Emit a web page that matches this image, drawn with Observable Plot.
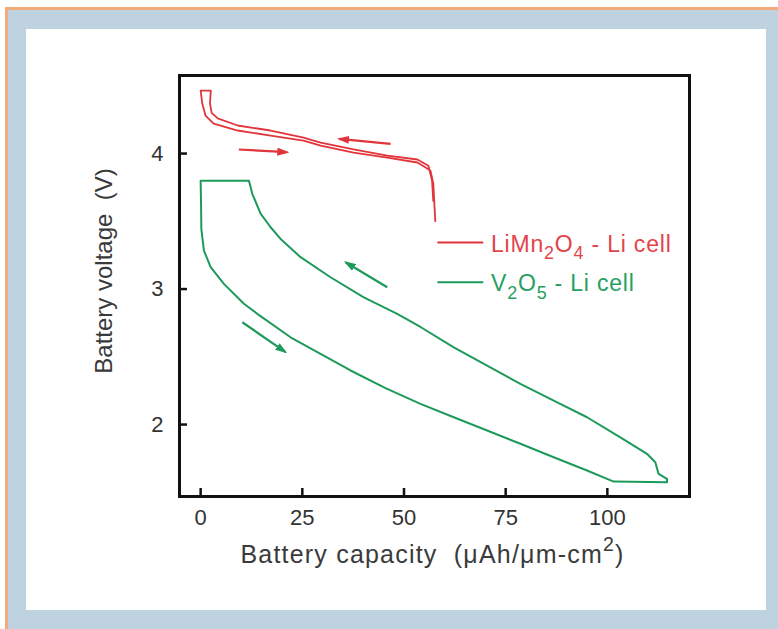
<!DOCTYPE html>
<html>
<head>
<meta charset="utf-8">
<script src="https://cdn.jsdelivr.net/npm/d3@7"></script>
<script src="https://cdn.jsdelivr.net/npm/@observablehq/plot@0.6"></script>
<style>
html, body { margin: 0; padding: 0; background: #ffffff; width: 778px; height: 629px; overflow: hidden; }
#orange { position: absolute; left: 5px; top: 7px; width: 773px; height: 622px; background: #f5aa7b; }
#blue { position: absolute; left: 8px; top: 10px; width: 770px; height: 619px; background: #bfd2e0; }
#panel { position: absolute; left: 26px; top: 29px; width: 740px; height: 581px; background: #ffffff; }
#panel svg { display: block; }
</style>
</head>
<body>
<div id="orange"></div>
<div id="blue"></div>
<div id="panel"></div>
<script>
// ---------- data ----------
const capacityTicks = [0, 25, 50, 75, 100];
const voltageTicks = [2, 3, 4];

// LiMn2O4 - Li cell: closed thin loop (discharge branch then charge branch)
const limnCapacity = [57.7, 57.2, 56.5, 53.3, 45.9, 37.6, 29.5, 25.3, 17.2, 9.1, 3.2, 1.2, 0.4, 0.0,
                      2.5, 2.3, 2.7, 4.2, 9.1, 17.2, 25.3, 29.5, 37.6, 45.9, 53.3, 56.0, 56.9, 57.2];
const limnVoltage  = [3.50, 3.78, 3.875, 3.934, 3.970, 4.007, 4.059, 4.096, 4.133, 4.170, 4.221, 4.280, 4.369, 4.465,
                      4.465, 4.369, 4.300, 4.260, 4.207, 4.170, 4.118, 4.081, 4.030, 3.985, 3.956, 3.910, 3.800, 3.650];

// V2O5 - Li cell: closed loop
const v2o5Capacity = [11.87, 0.0, 0.1, 0.17, 0.81, 2.46, 5.72, 10.64, 13.93, 22.11, 29.48, 36.86, 45.45, 54.05, 62.24, 70.44, 78.62, 86.81, 95.01, 101.55,
                      114.67, 114.67, 112.6, 111.79, 109.75, 103.19, 95.01, 86.81, 78.62, 70.44, 62.24, 54.05, 48.33, 40.12, 31.94, 24.57, 19.66, 17.2, 14.74, 12.70, 11.87];
const v2o5Voltage  = [3.80, 3.80, 3.62, 3.444, 3.284, 3.161, 3.038, 2.891, 2.817, 2.644, 2.522, 2.399, 2.269, 2.153, 2.054, 1.956, 1.858, 1.759, 1.661, 1.579,
                      1.574, 1.599, 1.636, 1.722, 1.784, 1.906, 2.054, 2.177, 2.300, 2.435, 2.570, 2.720, 2.817, 2.939, 3.087, 3.235, 3.370, 3.456, 3.556, 3.703, 3.80];

// direction arrows
const arrowSeries        = ["LiMn2O4", "LiMn2O4", "V2O5", "V2O5"];
const arrowFromCapacity  = [46.7, 9.4, 45.87, 10.25];
const arrowFromVoltage   = [4.072, 4.030, 3.013, 2.755];
const arrowToCapacity    = [34.0, 21.3, 35.63, 20.88];
const arrowToVoltage     = [4.108, 4.010, 3.198, 2.534];

const seriesKeys   = ["LiMn2O4", "V2O5"];
const seriesLabels = ["LiMn_2O_4 - Li cell", "V_2O_5 - Li cell"];

const xLabel = "Battery capacity\u00a0 (\u03bcAh/\u03bcm-cm^2)";
const yLabel = "Battery voltage\u00a0 (V)";

// ---------- styles ----------
const lineColor = {LiMn2O4: "#e1353b", V2O5: "#1d9a5b"};
const textColor = {LiMn2O4: "#e3444a", V2O5: "#26a062"};

// ---------- tables ----------
const limnData = limnCapacity.map((c, i) => ({capacity: c, voltage: limnVoltage[i]}));
const v2o5Data = v2o5Capacity.map((c, i) => ({capacity: c, voltage: v2o5Voltage[i]}));
const arrowData = arrowSeries.map((s, i) => ({
  series: s, x1: arrowFromCapacity[i], y1: arrowFromVoltage[i], x2: arrowToCapacity[i], y2: arrowToVoltage[i]
}));
const legendData = seriesKeys.map((k, i) => ({series: k, label: seriesLabels[i]}));

// legend placement (in data units of the chart)
const legendLineX1 = 58.2, legendLineX2 = 69.5, legendTextX = 71.4;
const legendLineY = [3.343, 3.050];
const legendTextY = [3.277, 2.982];

const font = "'Liberation Sans', Arial, Helvetica, sans-serif";

const chart = Plot.plot({
  width: 740,
  height: 581,
  marginLeft: 153,
  marginRight: 77,
  marginTop: 46,
  marginBottom: 114,
  style: {fontFamily: font, background: "transparent", overflow: "visible"},
  x: {domain: [-5.2, 120.2]},
  y: {domain: [1.469, 4.576]},
  marks: [
    Plot.line(limnData, {x: "capacity", y: "voltage", stroke: lineColor.LiMn2O4, strokeWidth: 1.8, strokeLinejoin: "round"}),
    Plot.line(v2o5Data, {x: "capacity", y: "voltage", stroke: lineColor.V2O5, strokeWidth: 2, strokeLinejoin: "round"}),
    Plot.link(arrowData, {x1: "x1", y1: "y1", x2: "x2", y2: "y2", stroke: d => lineColor[d.series], strokeWidth: 2.2, ariaLabel: () => "direction-arrows"}),
    // legend
    Plot.link(legendData, {x1: legendLineX1, x2: legendLineX2, y1: (d, i) => legendLineY[i], y2: (d, i) => legendLineY[i], stroke: d => lineColor[d.series], strokeWidth: 2}),
    Plot.text(legendData, {x: legendTextX, y: (d, i) => legendTextY[i], text: "label", fill: d => textColor[d.series], fontSize: 23, textAnchor: "start", lineAnchor: "bottom", ariaLabel: () => "legend-text"}),
    // axes
    Plot.axisX(capacityTicks, {tickSize: -8, strokeWidth: 2.5, stroke: "#111", fill: "none", label: null}),
    Plot.axisX(capacityTicks, {tickSize: 0, tickPadding: 13, fontSize: 22, fill: "#333", label: null, tickFormat: d3.format("d")}),
    Plot.axisY(voltageTicks, {tickSize: -8, strokeWidth: 2.5, stroke: "#111", fill: "none", label: null}),
    Plot.axisY(voltageTicks, {tickSize: 0, tickPadding: 16, fontSize: 22, fill: "#333", label: null, tickFormat: d3.format("d")}),
    Plot.frame({stroke: "#111", strokeWidth: 3}),
    // axis titles
    Plot.text([xLabel], {frameAnchor: "bottom", dy: 66, dx: -2, textAnchor: "middle", lineAnchor: "bottom", fontSize: 25, fill: "#3a3a3a", ariaLabel: () => "x-title"}),
    Plot.text([yLabel], {frameAnchor: "left", dx: -75, dy: -15, textAnchor: "middle", lineAnchor: "middle", rotate: -90, fontSize: 24, fill: "#3a3a3a", ariaLabel: () => "y-title"})
  ]
});

document.getElementById("panel").appendChild(chart);

// ---------- rich text (sub/superscripts) ----------
const NS = "http://www.w3.org/2000/svg";
function richText(node) {
  const s = node.textContent;
  if (!/[_^]\d/.test(s)) return;
  const fs = parseFloat(getComputedStyle(node).fontSize) || 20;
  node.textContent = "";
  let cur = 0;
  for (const tok of s.split(/([_^]\d)/)) {
    if (!tok) continue;
    const ts = document.createElementNS(NS, "tspan");
    let target = 0, txt = tok, size = null;
    if (/^[_^]\d$/.test(tok)) {
      target = tok[0] === "_" ? 0.33 * fs : -0.45 * fs;
      size = 0.78 * fs;
      txt = tok[1];
    }
    if (target !== cur) { ts.setAttribute("dy", (target - cur).toFixed(2)); cur = target; }
    if (size) ts.setAttribute("font-size", size.toFixed(1));
    ts.textContent = txt;
    node.appendChild(ts);
  }
}
chart.querySelectorAll("text").forEach(richText);

function byLabel(label, tags) {
  const out = [];
  chart.querySelectorAll(`[aria-label="${label}"]`).forEach(el => {
    if (tags.includes(el.tagName.toLowerCase())) out.push(el);
    else el.querySelectorAll(tags.join(",")).forEach(e => out.push(e));
  });
  return out;
}

// letter spacing to mimic the slightly wide lettering of the original
byLabel("x-title", ["text"]).forEach(t => t.style.letterSpacing = "1.2px");
byLabel("legend-text", ["text"]).forEach(t => t.style.letterSpacing = "0.8px");

// filled arrow heads
const defs = document.createElementNS(NS, "defs");
chart.insertBefore(defs, chart.firstChild);
const markerFor = {};
Object.entries(lineColor).forEach(([k, c], i) => {
  const m = document.createElementNS(NS, "marker");
  const id = "head-" + i;
  m.setAttribute("id", id);
  m.setAttribute("viewBox", "0 0 12 8");
  m.setAttribute("refX", "10");
  m.setAttribute("refY", "4");
  m.setAttribute("markerWidth", "12");
  m.setAttribute("markerHeight", "8");
  m.setAttribute("markerUnits", "userSpaceOnUse");
  m.setAttribute("orient", "auto");
  const p = document.createElementNS(NS, "path");
  p.setAttribute("d", "M0,0L12,4L0,8Z");
  p.setAttribute("fill", c);
  m.appendChild(p);
  defs.appendChild(m);
  markerFor[c.toLowerCase()] = id;
});
byLabel("direction-arrows", ["path", "line"]).forEach(p => {
  const c = (p.getAttribute("stroke") || "").toLowerCase();
  if (markerFor[c]) p.setAttribute("marker-end", `url(#${markerFor[c]})`);
});
</script>
</body>
</html>
